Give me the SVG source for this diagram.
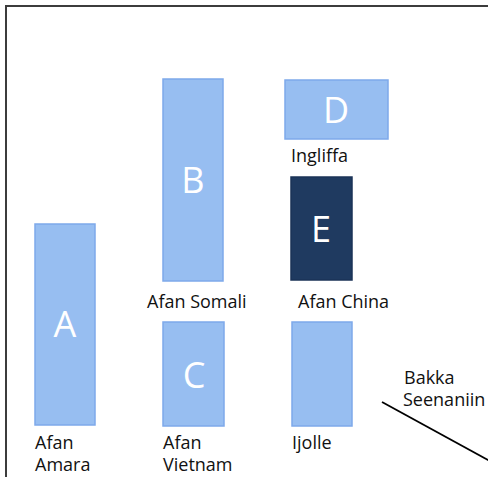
<svg xmlns="http://www.w3.org/2000/svg" width="488" height="477" viewBox="0 0 488 477">
<style>
.box{fill:#97BEF1;stroke:#7EA9EA;stroke-width:1.5}
.dark{fill:#1F3A60;stroke:#1B3357;stroke-width:1.5}
.letter{font-family:"Open Sans","Liberation Sans",sans-serif;font-size:36px;fill:#ffffff;text-anchor:middle}
.lbl{font-family:"Open Sans","Liberation Sans",sans-serif;font-size:18px;fill:#111111}
</style>
<rect width="488" height="477" fill="#ffffff"/>
<path d="M6,478 V6 H490" fill="none" stroke="#3c3c3c" stroke-width="2"/>
<g id="nodeA">
<rect class="box" x="35" y="224" width="60" height="201"/>
<text class="letter" x="65" y="337">A</text>
<text class="lbl" x="35" y="449">Afan</text>
<text class="lbl" x="35" y="471">Amara</text>
</g>
<g id="nodeB">
<rect class="box" x="163" y="79" width="60" height="202"/>
<text class="letter" x="193" y="193">B</text>
<text class="lbl" x="147" y="308">Afan Somali</text>
</g>
<g id="nodeC">
<rect class="box" x="163" y="322" width="61" height="104"/>
<text class="letter" x="194" y="388">C</text>
<text class="lbl" x="163" y="449">Afan</text>
<text class="lbl" x="163" y="471">Vietnam</text>
</g>
<g id="nodeD">
<rect class="box" x="285" y="80" width="103" height="59"/>
<text class="letter" x="336" y="123">D</text>
<text class="lbl" x="291" y="162">Ingliffa</text>
</g>
<g id="nodeE">
<rect class="dark" x="291" y="177" width="61" height="103"/>
<text class="letter" x="321" y="242">E</text>
<text class="lbl" x="298" y="308">Afan China</text>
</g>
<g id="nodeF">
<rect class="box" x="292" y="322" width="60" height="104"/>
<text class="lbl" x="292" y="449">Ijolle</text>
</g>
<g id="connectors">
<line x1="382" y1="402" x2="490" y2="461" stroke="#000000" stroke-width="1.8"/>
<text class="lbl" x="404" y="384">Bakka</text>
<text class="lbl" x="403" y="406">Seenaniin</text>
</g>
</svg>
